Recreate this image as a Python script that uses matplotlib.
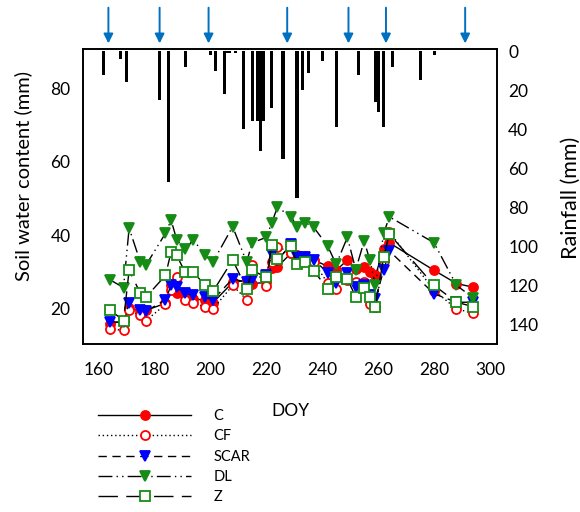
import numpy as np
import matplotlib.pyplot as plt

plt.rcParams['font.family'] = ['Lato', 'DejaVu Sans']

# sampling days and soil water content (mm)
doy = [164, 169, 171, 175, 177, 184, 186, 188, 191, 194, 198, 201, 208, 213, 215,
       220, 222, 224, 229, 231, 234, 237, 242, 245, 249, 252, 255, 257, 259, 262,
       264, 280, 288, 294]
c_vals = [15.9, 16.5, 20.0, 19.5, 19.5, 21.4, 26.3, 24.1, 23.6, 22.7, 22.2, 21.6, 27.1, 27.7, 26.8,
          27.1, 31.0, 31.3, 35.2, 34.5, 34.2, 33.2, 31.5, 30.4, 33.2, 30.9, 31.2, 29.9, 29.0, 36.1,
          37.9, 30.4, 26.8, 25.8]
cf_vals = [14.5, 14.0, 19.5, 18.1, 16.7, 21.1, 25.0, 28.5, 22.2, 21.5, 20.5, 19.9, 26.3, 22.4, 31.8,
           26.0, 32.6, 36.8, 35.2, 33.5, 33.7, 32.6, 26.9, 25.4, 27.7, 27.1, 27.2, 21.3, 20.5, 33.0,
           40.9, 24.9, 19.9, 18.7]
scar_vals = [16.4, 16.2, 21.5, 19.5, 19.2, 22.4, 26.3, 25.8, 24.1, 23.6, 23.1, 22.4, 28.1, 27.1, 27.7,
             29.0, 34.8, 33.2, 37.5, 33.9, 33.9, 33.3, 29.7, 26.9, 29.7, 25.8, 26.3, 23.6, 22.7, 30.4,
             35.7, 24.0, 21.7, 21.7]
dl_vals = [27.9, 25.7, 41.9, 32.7, 31.8, 40.5, 44.1, 38.8, 36.1, 38.8, 34.5, 32.7, 42.3, 32.7, 37.9,
           39.4, 43.4, 47.6, 45.0, 42.1, 43.4, 42.1, 37.0, 32.0, 39.4, 30.6, 38.4, 33.3, 26.3, 40.5,
           45.0, 37.9, 26.3, 22.9]
z_vals = [19.7, 16.7, 30.4, 24.2, 23.1, 29.0, 35.4, 34.5, 29.9, 30.0, 26.3, 24.7, 33.2, 25.4, 30.4,
          28.5, 37.3, 33.6, 37.0, 32.0, 32.7, 30.2, 25.4, 28.6, 28.1, 23.1, 25.7, 23.1, 20.5, 34.1,
          40.3, 26.3, 21.7, 20.5]

# daily rainfall (mm)
rain_doy = [162, 168, 170, 182, 185, 191, 200, 202, 205, 206, 207, 209, 212, 215, 217, 218, 219,
            222, 226, 231, 233, 235, 240, 245, 253, 259, 260, 262, 265, 275, 280]
rain_mm = [12, 4, 16, 25, 67, 8, 2, 10, 22, 1, 1, 1, 40, 36, 36, 51, 36,
           29, 55, 75, 20, 11, 5, 39, 12, 26, 31, 39, 8, 15, 2]

# event days marked with arrows
arrow_doy = [163.6, 181.9, 199.4, 227.5, 249.4, 262.8, 291.1]

green = '#168c16'
series = [
    ("C", c_vals, 'o', 'red', 'red', '-'),
    ("CF", cf_vals, 'o', 'red', 'white', (0, (1, 2))),
    ("SCAR", scar_vals, 'v', 'blue', 'blue', (0, (6, 4))),
    ("DL", dl_vals, 'v', green, green, (0, (10, 3, 1, 3, 1, 3))),
    ("Z", z_vals, 's', green, 'white', (0, (14, 6))),
]

fig = plt.figure(figsize=(5.8, 5.12), dpi=100)
ax = fig.add_axes([0.143, 0.328, 0.714, 0.576])
ax2 = ax.twinx()
ax.set_zorder(ax2.get_zorder() + 1)
ax.patch.set_visible(False)

ax2.bar(rain_doy, rain_mm, width=1.1, color='black')
ax2.set_ylim(150, -1)
ax2.set_yticks(np.arange(0, 141, 20))
ax2.set_ylabel("Rainfall (mm)", fontsize=15.5, rotation=90)
ax2.yaxis.set_label_coords(1.155, 0.495)
ax2.tick_params(length=0, labelsize=12.5, pad=8)

handles = []
for name, vals, m, ec, fc, ls in series:
    ln, = ax.plot(doy, vals, color='black', lw=1.0, ls=ls, marker=m, ms=6.5,
                  mec=ec, mfc=fc, mew=1.3, label=name)
    handles.append(ln)

ax.set_xlim(154.5, 302.5)
ax.set_ylim(10.3, 90.7)
ax.set_xticks(np.arange(160, 301, 20))
ax.set_yticks([20, 40, 60, 80])
ax.tick_params(length=0, labelsize=12.5)
ax.tick_params(axis='y', pad=9)
ax.tick_params(axis='x', pad=13)
ax.set_xlabel("DOY", fontsize=12.5)
ax.xaxis.set_label_coords(0.5, -0.2)
ax.set_ylabel("Soil water content (mm)", fontsize=14.5)
ax.yaxis.set_label_coords(-0.123, 0.57)

for sp in ax.spines.values():
    sp.set_linewidth(1.2)
for sp in ax2.spines.values():
    sp.set_linewidth(1.2)

for d in arrow_doy:
    ax.annotate('', xy=(d, 1.01), xycoords=('data', 'axes fraction'),
                xytext=(d, 1.15), textcoords=('data', 'axes fraction'),
                arrowprops=dict(arrowstyle='-|>', color='#0070C0', lw=1.4,
                                mutation_scale=14),
                annotation_clip=False)

fig.legend(handles, [h.get_label() for h in handles], loc='upper left',
           bbox_to_anchor=(0.169, 0.201), frameon=False, fontsize=10.5,
           handlelength=6.4, handletextpad=1.53, labelspacing=0.43,
           borderaxespad=0, borderpad=0)

fig.savefig("out.png", dpi=100)
